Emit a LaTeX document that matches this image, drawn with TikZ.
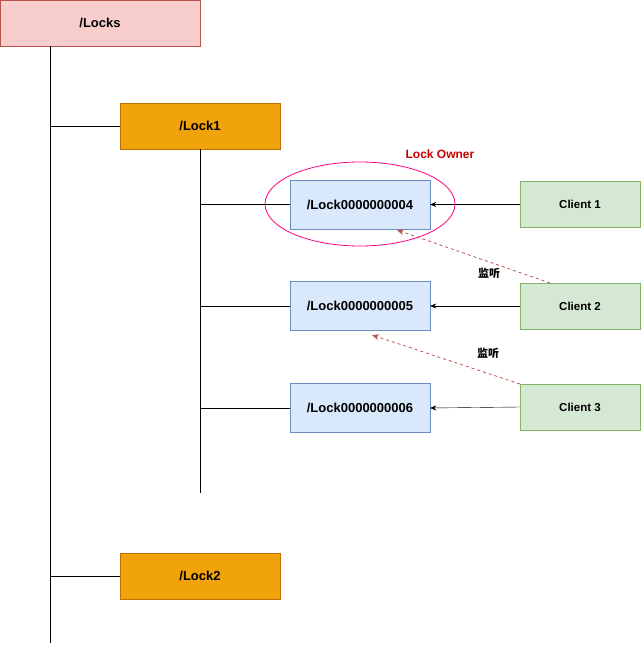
\documentclass[tikz,border=0pt]{standalone}
\usepackage{fontspec}
\setmainfont{Liberation Sans}
\newfontfamily\cjk{Noto Sans CJK SC}
\usetikzlibrary{arrows.meta,shapes.geometric}
\definecolor{pinkF}{HTML}{F8CECC}\definecolor{pinkD}{HTML}{B85450}
\definecolor{orF}{HTML}{F0A30A}\definecolor{orD}{HTML}{BD7000}
\definecolor{blF}{HTML}{DAE8FC}\definecolor{blD}{HTML}{6C8EBF}
\definecolor{grF}{HTML}{D5E8D4}\definecolor{grD}{HTML}{82B366}
\definecolor{mag}{HTML}{FF0080}\definecolor{owner}{HTML}{CC0000}
\begin{document}
\begin{tikzpicture}[x=1pt,y=-1pt,
 box/.style={draw,minimum width=#1,inner sep=0pt,font=\bfseries\fontsize{13}{15}\selectfont},
 locks/.style={box=200pt,minimum height=46pt,fill=pinkF,draw=pinkD},
 lk/.style={box=160pt,minimum height=46pt,fill=orF,draw=orD},
 seq/.style={box=140pt,minimum height=49pt,fill=blF,draw=blD},
 cl/.style={box=120pt,minimum height=46pt,fill=grF,draw=grD,font=\bfseries\fontsize{11.5}{14}\selectfont},
 arr/.style={-{Stealth[length=6pt,width=5pt]},black},
 watch/.style={-{Stealth[length=7pt,width=6pt]},pinkD,dashed,thick},
 lbl/.style={font=\cjk\bfseries\fontsize{11}{13}\selectfont}]
\useasboundingbox (0,0) rectangle (641,645);
\node[locks] (locks) at (100,23) {/Locks};
\node[lk] (lock1) at (200,126) {/Lock1};
\node[lk] (lock2) at (200,576) {/Lock2};
\node[seq] (s4) at (360,204.5) {/Lock0000000004};
\node[seq] (s5) at (360,306) {/Lock0000000005};
\node[seq] (s6) at (360,408) {/Lock0000000006};
\node[cl] (c1) at (580,204.5) {Client 1};
\node[cl] (c2) at (580,306) {Client 2};
\node[cl] (c3) at (580,407) {Client 3};
\coordinate (t1) at (50,643);
\coordinate (t2) at (200,493);
\draw (50,46) -- (t1);
\draw (50,126) -- (lock1.west);
\draw (50,576) -- (lock2.west);
\draw (lock1.south) -- (t2);
\draw (200,204.5) -- (s4.west);
\draw (200,306) -- (s5.west);
\draw (200,408) -- (s6.west);
\draw[arr] (c1) -- (s4);
\draw[arr] (c2) -- (s5);
\draw[arr] (c3.west) -- (s6.east);
\node[draw=mag,thick,ellipse,inner sep=0pt,minimum width=190pt,minimum height=84pt] (own) at (360,204) {};
\node[font=\bfseries\fontsize{12}{14}\selectfont,text=owner] (ol) at (440,154) {Lock Owner};
\coordinate (w1) at (550,283);\coordinate (w1e) at (397,230);
\coordinate (w2) at (520,384);\coordinate (w2e) at (372,335);
\draw[watch] (w1) -- (w1e);
\draw[watch] (w2) -- (w2e);
\node[lbl] (l1) at (489,273) {监听};
\node[lbl] (l2) at (488,353) {监听};
\end{tikzpicture}
\end{document}
